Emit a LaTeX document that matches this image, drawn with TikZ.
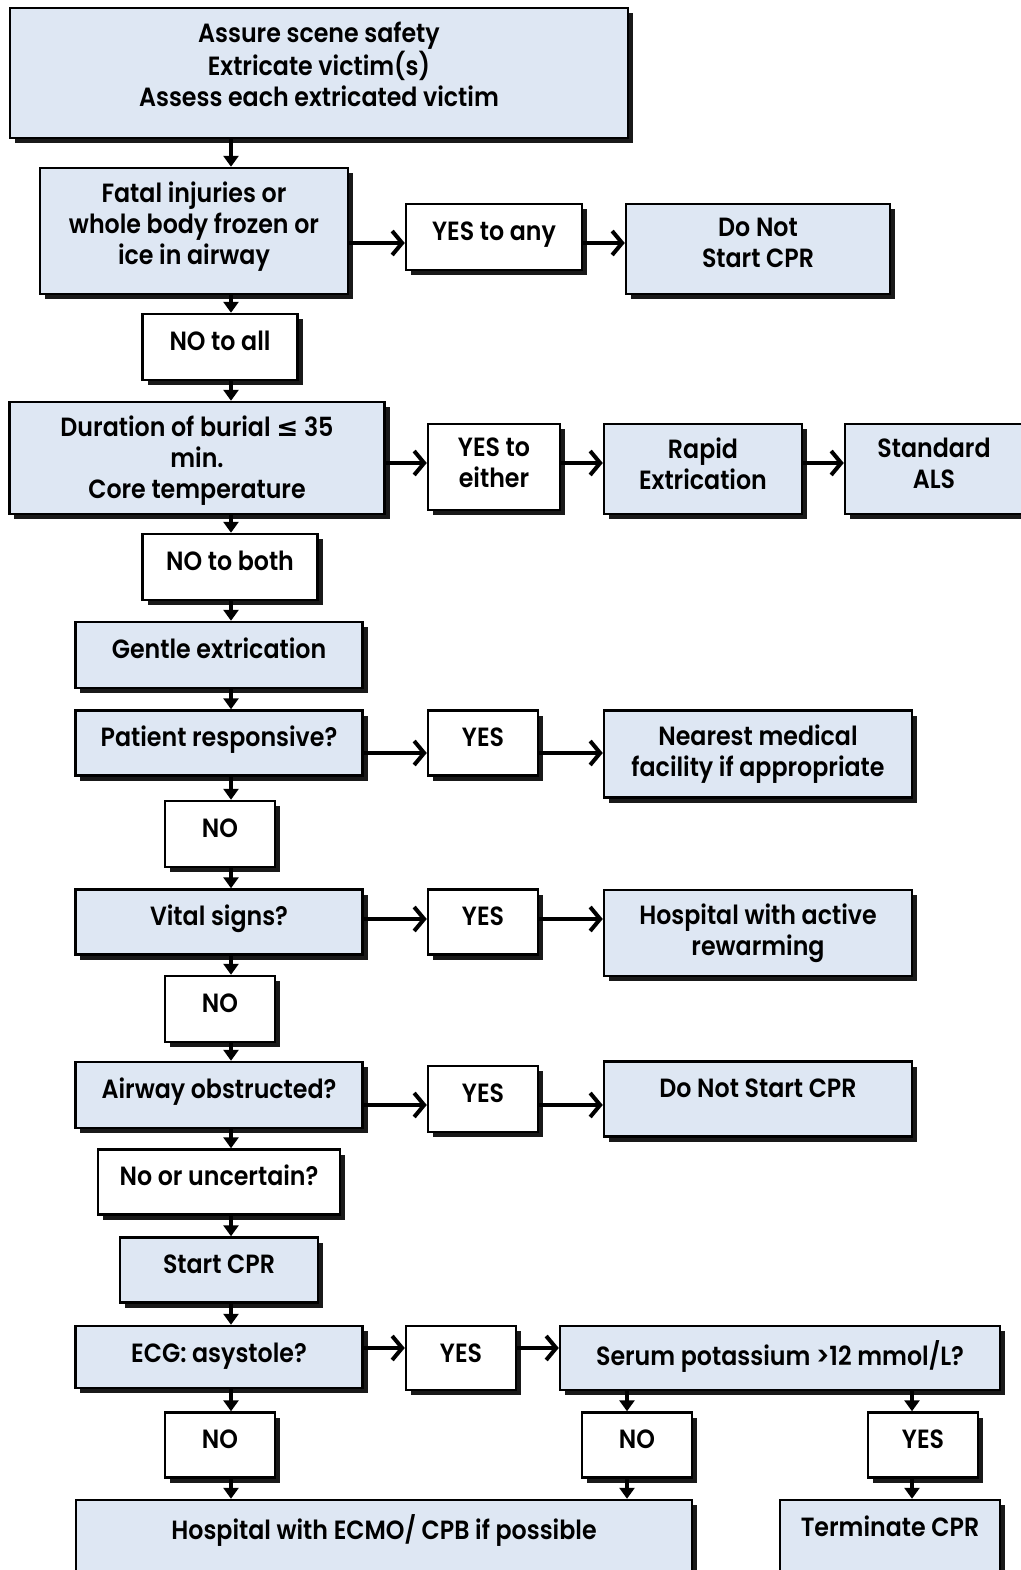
\documentclass[tikz,border=0pt]{standalone}
\usepackage{fontspec}
\setmainfont{Poppins}[UprightFont=* SemiBold, FakeStretch=0.9]
\newfontfamily\symfont{DejaVu Sans}
\usetikzlibrary{arrows.meta,shadows,calc}
\definecolor{boxblue}{RGB}{222,231,243}
\tikzset{
  box/.style={draw=black, line width=1.4pt, inner sep=0pt,
    drop shadow={shadow xshift=0.1cm, shadow yshift=-0.1cm, fill=black, opacity=0.9}},
  bluebox/.style={box, fill=boxblue},
  whitebox/.style={box, fill=white},
  sz/.style 2 args={minimum width=#1*0.02cm, minimum height=#2*0.02cm},
  txt/.style={anchor=north, yshift=-0.3cm, inner sep=0pt, align=center,
    font=\fontsize{15}{17.6}\selectfont, execute at begin node=\rule{0pt}{0.84em}},
  vline/.style={line width=0.08cm, -{Triangle[length=0.22cm,width=0.3cm]}},
  hline/.style={line width=0.08cm, -{Straight Barb[length=0.2cm,width=0.48cm]}}
}
\begin{document}
\begin{tikzpicture}[x=0.02cm, y=-0.02cm]
\clip (0,0) rectangle (1021,1570);
\coordinate (trunk) at (231,0);
\coordinate (mid) at (627,0);
\coordinate (rgt) at (912,0);

\node[bluebox, sz={618}{130}, label={[txt]north:{Assure scene safety\\Extricate victim(s)\\Assess each extricated victim}}] (safety) at (319,73) {};
\node[bluebox, sz={308}{126}, label={[txt]north:{Fatal injuries or\\whole body frozen or\\ice in airway}}] (fatal) at (194,231) {};
\node[whitebox, sz={176}{66}, label={[txt]north:{YES to any}}] (yesany) at (494,237) {};
\node[bluebox, sz={264}{90}, label={[txt]north:{Do Not\\Start CPR}}] (dnscpr) at (758,249) {};
\node[whitebox, sz={155}{66}, label={[txt]north:{NO to all}}] (noall) at (220,347) {};
\node[bluebox, sz={375}{112}, label={[txt]north:{Duration of burial {\symfont\bfseries ≤} 35\\min.\\Core temperature}}] (burial) at (197,458) {};
\node[whitebox, sz={132}{86}, label={[txt]north:{YES to\\either}}] (yeseither) at (494,467) {};
\node[bluebox, sz={198}{90}, label={[txt]north:{Rapid\\Extrication}}] (rapid) at (703,469) {};
\node[bluebox, sz={178}{90}, label={[txt]north:{Standard\\ALS}}] (als) at (934,469) {};
\node[whitebox, sz={175}{66}, label={[txt]north:{NO to both}}] (noboth) at (230,567) {};
\node[bluebox, sz={287}{66}, label={[txt]north:{Gentle extrication}}] (gentle) at (219,655) {};
\node[bluebox, sz={287}{65}, label={[txt]north:{Patient responsive?}}] (patient) at (219,743) {};
\node[whitebox, sz={110}{65}, label={[txt]north:{YES}}] (yesresp) at (483,743) {};
\node[bluebox, sz={308}{87}, label={[txt]north:{Nearest medical\\facility if appropriate}}] (nearest) at (758,754) {};
\node[whitebox, sz={110}{66}, label={[txt]north:{NO}}] (noresp) at (220,834) {};
\node[bluebox, sz={287}{65}, label={[txt]north:{Vital signs?}}] (vital) at (219,922) {};
\node[whitebox, sz={110}{65}, label={[txt]north:{YES}}] (yesvital) at (483,922) {};
\node[bluebox, sz={308}{86}, label={[txt]north:{Hospital with active\\rewarming}}] (rewarm) at (758,933) {};
\node[whitebox, sz={110}{66}, label={[txt]north:{NO}}] (novital) at (220,1009) {};
\node[bluebox, sz={287}{66}, label={[txt]north:{Airway obstructed?}}] (airway) at (219,1095) {};
\node[whitebox, sz={110}{66}, label={[txt]north:{YES}}] (yesairway) at (483,1099) {};
\node[bluebox, sz={308}{75}, label={[txt]north:{Do Not Start CPR}}] (dnscprb) at (758,1099) {};
\node[whitebox, sz={242}{65}, label={[txt]north:{No or uncertain?}}] (uncertain) at (219,1182) {};
\node[bluebox, sz={198}{65}, label={[txt]north:{Start CPR}}] (startcpr) at (219,1270) {};
\node[bluebox, sz={287}{62}, label={[txt]north:{ECG: asystole?}}] (ecg) at (219,1357) {};
\node[whitebox, sz={110}{64}, label={[txt]north:{YES}}] (yesecg) at (461,1358) {};
\node[bluebox, sz={440}{64}, label={[txt]north:{Serum potassium >12 mmol/L?}}] (serum) at (780,1358) {};
\node[whitebox, sz={110}{65}, label={[txt]north:{NO}}] (noecg) at (220,1445) {};
\node[whitebox, sz={110}{65}, label={[txt]north:{NO}}] (noserum) at (637,1445) {};
\node[whitebox, sz={110}{65}, label={[txt]north:{YES}}] (yesserum) at (923,1445) {};
\node[bluebox, sz={616}{80}, label={[txt]north:{Hospital with ECMO/ CPB if possible}}] (ecmo) at (384,1540) {};
\node[bluebox, sz={220}{80}, label={[txt]north:{Terminate CPR}}] (terminate) at (890,1540) {};

\draw[vline] (safety.south -| trunk) -- (fatal.north -| trunk);
\draw[vline] (fatal.south -| trunk) -- (noall.north -| trunk);
\draw[vline] (noall.south -| trunk) -- (burial.north -| trunk);
\draw[vline] (burial.south -| trunk) -- (noboth.north -| trunk);
\draw[vline] (noboth.south -| trunk) -- (gentle.north -| trunk);
\draw[vline] (gentle.south -| trunk) -- (patient.north -| trunk);
\draw[vline] (patient.south -| trunk) -- (noresp.north -| trunk);
\draw[vline] (noresp.south -| trunk) -- (vital.north -| trunk);
\draw[vline] (vital.south -| trunk) -- (novital.north -| trunk);
\draw[vline] (novital.south -| trunk) -- (airway.north -| trunk);
\draw[vline] (airway.south -| trunk) -- (uncertain.north -| trunk);
\draw[vline] (uncertain.south -| trunk) -- (startcpr.north -| trunk);
\draw[vline] (startcpr.south -| trunk) -- (ecg.north -| trunk);
\draw[vline] (ecg.south -| trunk) -- (noecg.north -| trunk);
\draw[vline] (noecg.south -| trunk) -- (ecmo.north -| trunk);
\draw[vline] (serum.south -| mid) -- (noserum.north -| mid);
\draw[vline] (noserum.south -| mid) -- (ecmo.north -| mid);
\draw[vline] (serum.south -| rgt) -- (yesserum.north -| rgt);
\draw[vline] (yesserum.south -| rgt) -- (terminate.north -| rgt);

\draw[hline] ($(fatal.east |- yesany.west)+(0,6)$) -- ($(yesany.west)+(0,6)$);
\draw[hline] ($(yesany.east)+(0,6)$) -- ($(dnscpr.west |- yesany.east)+(0,6)$);
\draw[hline] ($(burial.east |- yeseither.west)+(0,-4)$) -- ($(yeseither.west)+(0,-4)$);
\draw[hline] ($(yeseither.east)+(0,-4)$) -- ($(rapid.west |- yeseither.east)+(0,-4)$);
\draw[hline] ($(rapid.east |- yeseither.east)+(0,-4)$) -- ($(als.west |- yeseither.east)+(0,-4)$);
\draw[hline] ($(patient.east |- yesresp.west)+(0,10)$) -- ($(yesresp.west)+(0,10)$);
\draw[hline] ($(yesresp.east)+(0,10)$) -- ($(nearest.west |- yesresp.east)+(0,10)$);
\draw[hline] ($(vital.east |- yesvital.west)+(0,-3)$) -- ($(yesvital.west)+(0,-3)$);
\draw[hline] ($(yesvital.east)+(0,-3)$) -- ($(rewarm.west |- yesvital.east)+(0,-3)$);
\draw[hline] ($(airway.east |- yesairway.west)+(0,6)$) -- ($(yesairway.west)+(0,6)$);
\draw[hline] ($(yesairway.east)+(0,6)$) -- ($(dnscprb.west |- yesairway.east)+(0,6)$);
\draw[hline] ($(ecg.east |- yesecg.west)+(0,-10)$) -- ($(yesecg.west)+(0,-10)$);
\draw[hline] ($(yesecg.east)+(0,-10)$) -- ($(serum.west |- yesecg.east)+(0,-10)$);
\end{tikzpicture}
\end{document}
